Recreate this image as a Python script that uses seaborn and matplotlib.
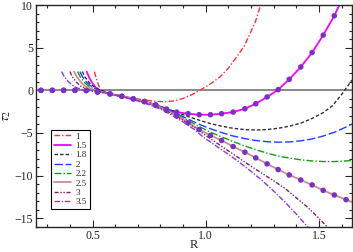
import numpy as np
import pandas as pd
import matplotlib
matplotlib.use("Agg")
import matplotlib.pyplot as plt
import seaborn as sns
from matplotlib.ticker import MultipleLocator

# curves: tau_2 against R, one per parameter value
labels = ["1", "1.5", "1.8", "2", "2.2", "2.5", "3", "3.5"]

r_1 = [0.508, 0.515, 0.525, 0.535, 0.55, 0.58, 0.62, 0.67, 0.72, 0.77, 0.82, 0.86, 0.90, 0.94, 0.974,
       1.02, 1.063, 1.10, 1.137, 1.17, 1.196, 1.22, 1.245]
t_1 = [2.2, 1.5, 0.7, 0.1, -0.22, -0.4, -0.62, -0.88, -1.1, -1.27, -1.34, -1.24, -0.95, -0.5, 0.0,
       0.75, 1.57, 2.6, 3.92, 5.2, 6.67, 8.1, 10.2]

r_15 = [0.474, 0.485, 0.50, 0.515, 0.535, 0.577, 0.629, 0.68, 0.729, 0.779, 0.827, 0.871, 0.922, 0.971,
        1.021, 1.07, 1.121, 1.173, 1.221, 1.271, 1.32, 1.369, 1.42, 1.47, 1.519, 1.568, 1.592]
t_15 = [2.2, 1.5, 0.8, 0.3, -0.05, -0.42, -0.7, -1.0, -1.3, -1.7, -2.2, -2.55, -2.74, -2.86,
        -2.86, -2.74, -2.55, -2.16, -1.57, -0.78, 0.08, 1.29, 2.74, 4.43, 6.47, 8.74, 10.1]

r_18 = [0.455, 0.465, 0.485, 0.505, 0.53, 0.56, 0.577, 0.629, 0.68, 0.729, 0.779, 0.827, 0.876, 0.922,
        0.971, 1.02, 1.07, 1.12, 1.17, 1.22, 1.27, 1.32, 1.37, 1.42, 1.47, 1.52, 1.56, 1.60, 1.646]
t_18 = [2.2, 1.6, 0.9, 0.45, 0.08, -0.2, -0.42, -0.7, -1.0, -1.3, -1.7, -2.15, -2.62, -3.08,
        -3.5, -3.9, -4.2, -4.45, -4.6, -4.65, -4.6, -4.45, -4.2, -3.85, -3.3, -2.6, -1.8, -0.5, 1.2]

r_2 = [0.444, 0.455, 0.475, 0.495, 0.52, 0.55, 0.577, 0.629, 0.68, 0.729, 0.779, 0.827, 0.876, 0.922,
       0.971, 1.02, 1.07, 1.12, 1.17, 1.22, 1.27, 1.32, 1.37, 1.42, 1.47, 1.52, 1.57, 1.62, 1.646]
t_2 = [2.2, 1.6, 0.9, 0.45, 0.08, -0.18, -0.42, -0.7, -1.0, -1.3, -1.72, -2.2, -2.78, -3.38,
       -3.98, -4.5, -4.95, -5.35, -5.65, -5.88, -6.02, -6.08, -6.05, -5.92, -5.7, -5.35, -4.9, -4.3, -3.95]

r_22 = [0.434, 0.445, 0.465, 0.485, 0.51, 0.54, 0.577, 0.629, 0.68, 0.729, 0.779, 0.827, 0.876, 0.922,
        0.971, 1.02, 1.07, 1.12, 1.17, 1.22, 1.27, 1.32, 1.37, 1.42, 1.47, 1.52, 1.57, 1.62, 1.646]
t_22 = [2.2, 1.6, 0.9, 0.45, 0.1, -0.15, -0.42, -0.7, -1.0, -1.32, -1.74, -2.25, -2.9, -3.55,
        -4.25, -4.9, -5.45, -6.0, -6.5, -6.95, -7.35, -7.7, -7.95, -8.15, -8.28, -8.35, -8.35, -8.28, -8.22]

r_25 = [0.418, 0.43, 0.45, 0.47, 0.50, 0.53, 0.577, 0.629, 0.68, 0.729, 0.779, 0.827, 0.876, 0.922,
        0.971, 1.021, 1.07, 1.121, 1.173, 1.221, 1.271, 1.32, 1.369, 1.42, 1.47, 1.519, 1.568, 1.62, 1.646]
t_25 = [2.2, 1.6, 0.9, 0.45, 0.08, -0.15, -0.42, -0.7, -1.0, -1.32, -1.78, -2.35, -3.0, -3.8,
        -4.59, -5.29, -5.88, -6.59, -7.25, -7.92, -8.62, -9.29, -9.92, -10.51, -11.09, -11.73, -12.27, -12.82, -13.1]

r_3 = [0.40, 0.41, 0.43, 0.45, 0.48, 0.52, 0.56, 0.60, 0.65, 0.70, 0.75, 0.80, 0.85, 0.90, 0.95, 0.99,
       1.05, 1.10, 1.15, 1.20, 1.25, 1.30, 1.35, 1.40, 1.45, 1.50, 1.54]
t_3 = [2.2, 1.6, 0.9, 0.45, 0.1, -0.12, -0.32, -0.55, -0.87, -1.2, -1.6, -2.1, -2.75, -3.5, -4.35, -5.1,
       -6.2, -7.1, -8.0, -8.9, -9.75, -10.6, -11.5, -12.6, -13.7, -15.0, -16.1]

r_35 = [0.363, 0.375, 0.39, 0.41, 0.43, 0.46, 0.50, 0.55, 0.60, 0.65, 0.70, 0.75, 0.80, 0.85, 0.90, 0.95,
        0.99, 1.05, 1.10, 1.15, 1.20, 1.25, 1.30, 1.35, 1.40, 1.45, 1.46]
t_35 = [2.2, 1.6, 1.1, 0.6, 0.3, 0.05, -0.1, -0.3, -0.56, -0.9, -1.25, -1.68, -2.2, -2.9, -3.7, -4.6,
        -5.5, -6.6, -7.5, -8.45, -9.5, -10.6, -11.8, -13.1, -14.5, -16.0, -16.3]

# dotted reference points for 1.5 and 2.5
r_dots = [0.272, 0.322, 0.372, 0.422, 0.472, 0.522, 0.577, 0.629, 0.68, 0.729, 0.779, 0.827, 0.871, 0.922,
          0.971, 1.021, 1.07, 1.121, 1.173, 1.221, 1.271, 1.32, 1.369, 1.42, 1.47, 1.519, 1.568, 1.62]
t_dots_15 = [0, 0, 0, 0, -0.02, -0.2, -0.42, -0.7, -1.0, -1.3, -1.7, -2.2, -2.55, -2.74,
             -2.86, -2.86, -2.74, -2.55, -2.16, -1.57, -0.78, 0.08, 1.29, 2.74, 4.43, 6.47, 8.74, None]
t_dots_25 = [0, 0, 0, 0, -0.02, -0.2, -0.42, -0.7, -1.0, -1.32, -1.78, -2.35, -3.0, -3.8,
             -4.59, -5.29, -5.88, -6.59, -7.25, -7.92, -8.62, -9.29, -9.92, -10.51, -11.09, -11.73, -12.27, -12.82]

curves = [(r_1, t_1), (r_15, t_15), (r_18, t_18), (r_2, t_2),
          (r_22, t_22), (r_25, t_25), (r_3, t_3), (r_35, t_35)]
colors = ["#ff3030", "#ff00ff", "#303030", "#2040ff", "#10a010", "#c89090", "#8b2060", "#8a3ae0"]
styles = [(0, (4, 1.5, 1, 1.5)), "-", (0, (2.5, 1.5)), (0, (6, 2)),
          (0, (5, 1.5, 1, 1.5)), "-", (0, (3, 1.2, 1, 1.2, 1, 1.2)), (0, (4, 1.2, 1, 1.2))]
widths = [1.0, 1.3, 1.0, 1.0, 1.0, 1.3, 1.0, 1.0]

sns.set_style("ticks")
plt.rcParams["font.family"] = ["Liberation Serif", "DejaVu Serif"]
plt.rcParams["mathtext.fontset"] = "stix"

fig = plt.figure(figsize=(3.53, 2.52), dpi=100)
ax = fig.add_axes([0.102, 0.1, 0.895, 0.88])

ax.axhline(0, color="#808080", lw=1.3, zorder=1)

for lab, (r, t), c, ls, lw in zip(labels, curves, colors, styles, widths):
    df = pd.DataFrame({"R": r, "tau": t})
    sns.lineplot(data=df, x="R", y="tau", ax=ax, color=c, lw=lw, label=lab,
                 sort=False, estimator=None, linestyle=ls, zorder=2)

for td in [t_dots_15, t_dots_25]:
    dd = pd.DataFrame({"R": r_dots, "tau": td}).dropna()
    sns.scatterplot(data=dd, x="R", y="tau", ax=ax, color="#7a30c8", s=16,
                    edgecolor="none", zorder=3)

ax.set_xlim(0.25, 1.646)
ax.set_ylim(-16, 10)
ax.xaxis.set_major_locator(MultipleLocator(0.5))
ax.xaxis.set_minor_locator(MultipleLocator(0.1))
ax.yaxis.set_major_locator(MultipleLocator(5))
ax.yaxis.set_minor_locator(MultipleLocator(1))
ax.tick_params(which="both", direction="in", top=True, right=True, labelsize=8.5, width=0.8, pad=2)
ax.tick_params(which="major", length=5)
ax.tick_params(which="minor", length=2.5)
for s in ax.spines.values():
    s.set_linewidth(1.0)
ax.set_xlabel("R", fontsize=9, labelpad=-1.5)
ax.set_ylabel(r"$\tau_2$", fontsize=10, labelpad=1)

leg = ax.legend(loc="lower left", bbox_to_anchor=(0.048, 0.08), fontsize=6.5, frameon=True,
                fancybox=False, edgecolor="black", framealpha=1, labelspacing=0.12,
                handlelength=1.9, handletextpad=0.5, borderpad=0.3, borderaxespad=0)
leg.get_frame().set_linewidth(0.8)

fig.savefig("out.png", dpi=100)
